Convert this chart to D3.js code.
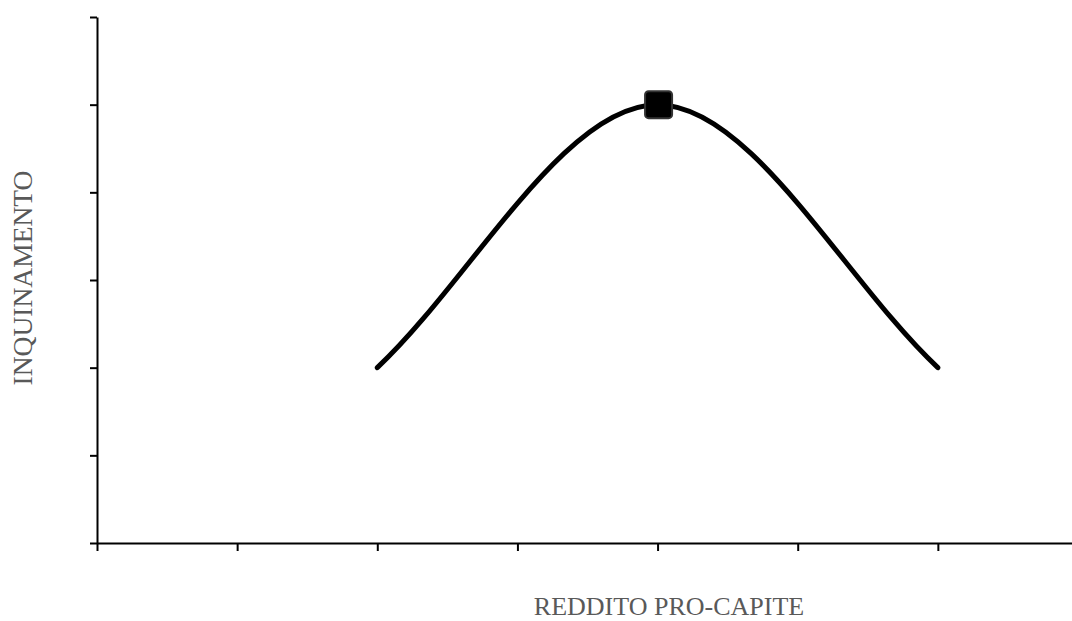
<!DOCTYPE html>
<meta charset="utf-8">
<head>
    <script src="https://d3js.org/d3.v7.min.js"></script>
    <style>
        body { margin: 0; background: white; }
        .axis path, .axis line {
            stroke: black;
            stroke-width: 2px;
        }
        .axis text { display: none; }
        .label {
            font-family: "Liberation Serif", "Times New Roman", serif;
            fill: #595959;
        }
    </style>
</head>
<body>
<script type="text/javascript">

    // data
    var xValues = [2, 4, 6];
    var yValues = [2, 5, 2];
    var peakIndex = 1; // only the top point has a marker
    var xTicks = [0, 1, 2, 3, 4, 5, 6];
    var yTicks = [0, 1, 2, 3, 4, 5, 6];

    var width = 1072;
    var height = 621;

    var svg = d3.select("body")
        .append("svg")
        .attr("width", width)
        .attr("height", height);

    var x = d3.scaleLinear().domain([0, 7]).range([97, 1078]);
    var y = d3.scaleLinear().domain([0, 6]).range([543, 17]);

    // axes
    svg.append("g")
        .attr("class", "axis")
        .attr("transform", "translate(0," + y(0) + ")")
        .call(d3.axisBottom(x).tickValues(xTicks).tickSize(8).tickSizeOuter(0));

    svg.append("g")
        .attr("class", "axis")
        .attr("transform", "translate(" + x(0) + ",0)")
        .call(d3.axisLeft(y).tickValues(yTicks).tickSize(7).tickSizeOuter(0));

    // smoothed line, spreadsheet style (phantom end points are reflected)
    function smoothPath(pts) {
        var n = pts.length;
        var p = d3.path();
        p.moveTo(pts[0][0], pts[0][1]);
        for (var i = 0; i < n - 1; i++) {
            var a = pts[i], b = pts[i + 1];
            var prev = i > 0 ? pts[i - 1] : [2 * a[0] - b[0], 2 * a[1] - b[1]];
            var next = i + 2 < n ? pts[i + 2] : [2 * b[0] - a[0], 2 * b[1] - a[1]];
            p.bezierCurveTo(
                a[0] + (b[0] - prev[0]) / 6, a[1] + (b[1] - prev[1]) / 6,
                b[0] - (next[0] - a[0]) / 6, b[1] - (next[1] - a[1]) / 6,
                b[0], b[1]);
        }
        return p.toString();
    }

    var points = xValues.map(function (d, i) { return [x(d), y(yValues[i])]; });

    svg.append("path")
        .attr("fill", "none")
        .attr("stroke", "black")
        .attr("stroke-width", 5)
        .attr("stroke-linecap", "round")
        .attr("d", smoothPath(points));

    // marker on the peak
    var s = 27;
    svg.append("rect")
        .attr("x", points[peakIndex][0] - s / 2 + 1)
        .attr("y", points[peakIndex][1] - s / 2)
        .attr("width", s)
        .attr("height", s)
        .attr("rx", 3.5)
        .attr("fill", "black")
        .attr("stroke", "#333")
        .attr("stroke-width", 2);

    // labels
    svg.append("text")
        .attr("class", "label")
        .attr("x", 669)
        .attr("y", 615)
        .attr("font-size", "26px")
        .attr("text-anchor", "middle")
        .text("REDDITO PRO-CAPITE");

    svg.append("text")
        .attr("class", "label")
        .attr("transform", "translate(32,278) rotate(-90)")
        .attr("font-size", "27.5px")
        .attr("text-anchor", "middle")
        .text("INQUINAMENTO");

</script>
</body>
</html>
